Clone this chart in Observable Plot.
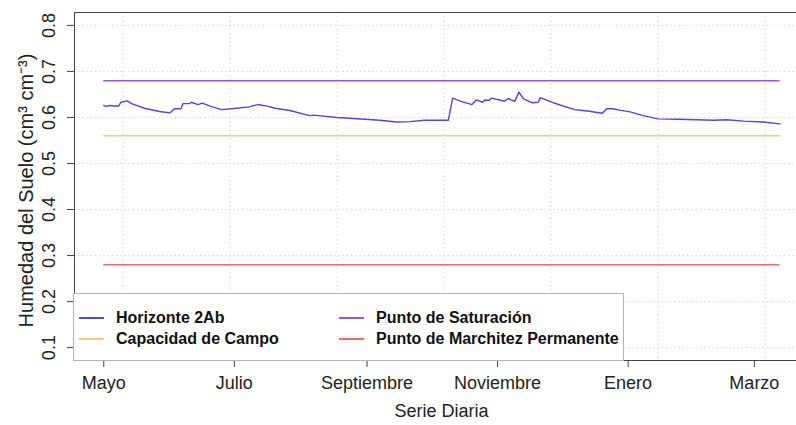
<!DOCTYPE html>
<html>
<head>
<meta charset="utf-8">
<script src="https://cdn.jsdelivr.net/npm/d3@7"></script>
<script src="https://cdn.jsdelivr.net/npm/@observablehq/plot@0.6"></script>
<style>
  html, body { margin: 0; padding: 0; background: white; overflow: hidden; }
  #wrap { position: relative; width: 796px; height: 425px; overflow: hidden; font-family: "Liberation Sans", Arial, sans-serif; }
  #wrap svg { max-width: none !important; }
  #legend { position: absolute; background: white; border: 1px solid #b4b4b4; box-sizing: border-box; }
  .li { position: absolute; font-weight: bold; font-size: 16px; color: #111; white-space: nowrap; line-height: 20px; height: 20px; }
  .ls { position: absolute; height: 1.5px; }
</style>
</head>
<body>
<div id="wrap"></div>
<script>
// ---- data ----
const dates = ["2014-05-01","2014-05-02","2014-05-04","2014-05-06","2014-05-08","2014-05-09","2014-05-12","2014-05-14","2014-05-20","2014-05-27",
  "2014-06-01","2014-06-03","2014-06-06","2014-06-07","2014-06-10","2014-06-11","2014-06-14","2014-06-16","2014-06-20","2014-06-25",
  "2014-07-02","2014-07-08","2014-07-12","2014-07-17","2014-07-20","2014-07-27","2014-08-05","2014-08-07","2014-08-18","2014-08-31",
  "2014-09-07","2014-09-15","2014-09-21","2014-09-28","2014-10-08","2014-10-09","2014-10-11","2014-10-15","2014-10-20","2014-10-22",
  "2014-10-25","2014-10-26","2014-10-28","2014-10-29","2014-11-02","2014-11-04","2014-11-06","2014-11-09","2014-11-11","2014-11-13",
  "2014-11-17","2014-11-20","2014-11-21","2014-11-27","2014-12-07","2014-12-13","2014-12-20","2014-12-22","2014-12-25","2014-12-28",
  "2015-01-02","2015-01-08","2015-01-15","2015-01-24","2015-02-02","2015-02-10","2015-02-16","2015-02-24","2015-03-05","2015-03-13"];
const horizonte2Ab = [0.626,0.624,0.626,0.625,0.625,0.633,0.636,0.630,0.620,0.613,
  0.610,0.619,0.619,0.630,0.630,0.633,0.628,0.631,0.624,0.617,
  0.620,0.623,0.628,0.624,0.620,0.615,0.604,0.605,0.600,0.596,
  0.594,0.590,0.591,0.594,0.594,0.594,0.642,0.635,0.628,0.638,
  0.633,0.638,0.637,0.642,0.638,0.635,0.641,0.635,0.655,0.641,
  0.632,0.633,0.643,0.632,0.617,0.614,0.609,0.619,0.619,0.616,
  0.612,0.604,0.597,0.596,0.595,0.594,0.595,0.592,0.590,0.586];

const refNames = ["Punto de Saturación", "Capacidad de Campo", "Punto de Marchitez Permanente"];
const refValues = [0.68, 0.56, 0.28];
const refColors = ["#9a55d6", "#f3cf6e", "#ee6a6a"];
const seriesName = "Horizonte 2Ab";
const seriesColor = "#4848ec";

const legendLabels = ["Horizonte 2Ab", "Capacidad de Campo", "Punto de Saturación", "Punto de Marchitez Permanente"];
const legendColors = ["#4848ec", "#f3cf6e", "#9a55d6", "#ee6a6a"];

const monthTicks = ["2014-05-01","2014-07-01","2014-09-01","2014-11-01","2015-01-01","2015-03-01"];
const monthLabels = ["Mayo","Julio","Septiembre","Noviembre","Enero","Marzo"];
const gridDates = ["2014-05-10","2014-06-29","2014-08-18","2014-10-07","2014-11-26","2015-01-15","2015-03-06"];
const yTicks = [0.1,0.2,0.3,0.4,0.5,0.6,0.7,0.8];
const xDomain = [new Date("2014-04-17T07:30Z"), new Date("2015-03-26T07:00Z")];
const yDomain = [0.072, 0.828];

const yTitle = "Humedad del Suelo (cm³ cm⁻³)";
const xTitle = "Serie Diaria";

// ---- build ----
const parse = d3.utcParse("%Y-%m-%d");
const rows = dates.map((d, i) => ({date: parse(d), value: horizonte2Ab[i]}));
const tickDates = monthTicks.map(parse);
const labelOf = d => monthLabels[tickDates.findIndex(t => +t === +d)];
const gridX = gridDates.map(parse);
const startD = rows[0].date, endD = rows[rows.length - 1].date;
const grid = {stroke: "#d0d0d0", strokeDasharray: "1.2,3", strokeWidth: 1};
const axisColor = "#444";

const chart = Plot.plot({
  width: 808, height: 425,
  marginLeft: 74, marginRight: 0, marginTop: 12, marginBottom: 65,
  style: {fontFamily: "Liberation Sans, Arial, sans-serif", fontSize: "18px", background: "white", color: "#222", maxWidth: "none"},
  x: {type: "utc", domain: xDomain},
  y: {domain: yDomain},
  marks: [
    Plot.ruleY(yTicks, {y: d => d, ...grid}),
    Plot.ruleX(gridX, {x: d => d, ...grid}),
    ...refValues.map((v, i) => Plot.ruleY([v], {y: d => d, x1: startD, x2: endD, stroke: refColors[i], strokeWidth: 1.5})),
    Plot.line(rows, {x: "date", y: "value", stroke: seriesColor, strokeWidth: 1.4}),
    Plot.frame({stroke: axisColor}),
    Plot.axisX(tickDates, {tickSize: 7, tickPadding: 9, tickFormat: labelOf, label: null, stroke: axisColor, fill: "#222", fontSize: 18}),
    Plot.axisY(yTicks, {tickSize: 7, tickFormat: () => "", label: null, stroke: axisColor}),
    Plot.text(yTicks, {y: d => d, text: d => d.toFixed(1), frameAnchor: "left", dx: -25, rotate: -90, textAnchor: "middle", lineAnchor: "middle", fontSize: 18, fill: "#222"}),
    Plot.text([yTitle], {text: d => d, frameAnchor: "left", dx: -48, dy: 4, rotate: -90, textAnchor: "middle", lineAnchor: "middle", fontSize: 20, fill: "#222"}),
    Plot.text([xTitle], {text: d => d, frameAnchor: "bottom", dy: 51, textAnchor: "middle", lineAnchor: "middle", fontSize: 18, fill: "#222"})
  ]
});
const wrap = document.getElementById("wrap");
wrap.appendChild(chart);

// legend (HTML overlay, bottom-left of the plot area)
const legend = document.createElement("div");
legend.id = "legend";
Object.assign(legend.style, {left: "73px", top: "293px", width: "551px", height: "68px"});
const colX = [[5, 42], [265, 302]];
const rowY = [23, 44];
legendLabels.forEach((lab, i) => {
  const c = Math.floor(i / 2), r = i % 2;
  const ln = document.createElement("div");
  ln.className = "ls";
  Object.assign(ln.style, {left: colX[c][0] + "px", width: "25px", top: rowY[r] + "px", background: legendColors[i]});
  legend.appendChild(ln);
  const tx = document.createElement("div");
  tx.className = "li";
  tx.textContent = lab;
  Object.assign(tx.style, {left: colX[c][1] + "px", top: (rowY[r] - 9) + "px"});
  legend.appendChild(tx);
});
wrap.appendChild(legend);
</script>
</body>
</html>
